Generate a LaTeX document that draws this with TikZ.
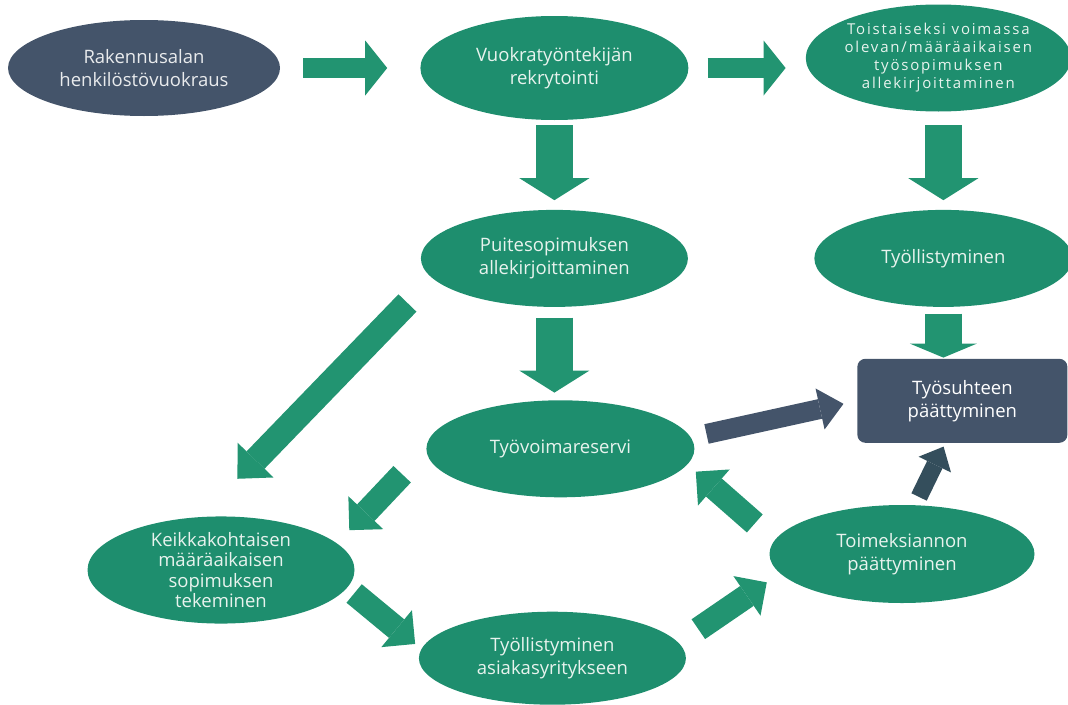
\documentclass[tikz,border=0pt]{standalone}
\usepackage{fontspec}
\setmainfont{Open Sans}
\newfontfamily\spacedfont[LetterSpace=12]{Open Sans}
\usepackage{xcolor}
\usepackage{tikz}
\usetikzlibrary{arrows.meta,shapes.geometric,positioning}

\definecolor{phasegreen}{RGB}{30,142,110}
\definecolor{arrowgreen}{RGB}{34,148,113}
\definecolor{slate}{RGB}{68,84,106}
\definecolor{darkteal}{RGB}{52,78,92}
\definecolor{lighttext}{RGB}{232,243,238}

\begin{document}
\begin{tikzpicture}[x=1pt,y=-1pt]

\tikzstyle{phase} = [ellipse, fill=phasegreen, text=lighttext, inner sep=0pt, align=center, font=\fontsize{18.5}{23}\selectfont]
\tikzstyle{endbox} = [rectangle, rounded corners=8pt, fill=slate, text=white, inner sep=0pt, align=center, font=\fontsize{18.5}{23}\selectfont]
\tikzstyle{bigarrow} = [draw=arrowgreen, line width=37pt, -{Triangle[width=70pt,length=22pt,line width=0pt]}]
\tikzstyle{flatarrow} = [draw=arrowgreen, line width=20pt, -{Triangle[width=55pt,length=22pt,line width=0pt]}]
\tikzstyle{slantarrow} = [draw=arrowgreen, line width=24pt, -{Triangle[width=48pt,length=24pt,line width=0pt]}]

\useasboundingbox (0,0) rectangle (1068,704);

\node [phase, fill=slate, text=white!88!slate, minimum width=272pt, minimum height=96pt] (rental) at (144,68) {Rakennusalan\\henkilöstövuokraus};
\node [phase, minimum width=268pt, minimum height=104pt, right = 140pt of rental] (recruit) {Vuokratyöntekijän\\rekrytointi};
\node [phase, minimum width=264pt, minimum height=107pt, right = 117pt of recruit, yshift=10pt, font=\spacedfont\fontsize{15}{18}\selectfont] (contract) {Toistaiseksi voimassa\\olevan/määräaikaisen\\työsopimuksen\\allekirjoittaminen};
\node [phase, minimum width=267pt, minimum height=97pt, below = 89.5pt of recruit] (frame) {Puitesopimuksen\\allekirjoittaminen};
\node [phase, minimum width=258pt, minimum height=97pt, below = 98pt of contract, xshift=5pt] (employed) {Työllistyminen};
\node [endbox, minimum width=210pt, minimum height=84pt, below = 51.5pt of employed, xshift=19pt] (ending) {Työsuhteen\\päättyminen};
\node [phase, minimum width=268pt, minimum height=97pt, below = 93pt of frame, xshift=6pt] (reserve) {Työvoimareservi};
\node [phase, minimum width=267pt, minimum height=90pt, font=\fontsize{18.5}{20.5}\selectfont] (gig) at (221,570) {Keikkakohtaisen\\määräaikaisen\\sopimuksen\\tekeminen};
\node [phase, minimum width=267pt, minimum height=93pt, below = 114pt of reserve, xshift=-8pt] (placed) {Työllistyminen\\asiakasyritykseen};
\node [phase, minimum width=265pt, minimum height=98pt] (assignend) at (902,554) {Toimeksiannon\\päättyminen};

\draw [flatarrow, shorten <=23pt, shorten >=33pt] (rental) -- (recruit);
\draw [flatarrow, shorten <=19pt, shorten >=20pt] (recruit.east) -- (recruit.east -| contract.west);
\draw [bigarrow, shorten <=5pt, shorten >=9.5pt] (recruit) -- (frame);
\draw [bigarrow, shorten <=13.5pt, shorten >=9.5pt] (employed.north |- contract.south) -- (employed);
\draw [bigarrow, -{Triangle[width=67pt,length=14pt,line width=0pt]}, shorten <=6.5pt, shorten >=1pt] (employed) -- (employed |- ending.north);
\draw [bigarrow, shorten <=10.5pt, shorten >=7.5pt] (frame) -- (frame |- reserve.north);
\draw [draw=slate, line width=20pt, -{Triangle[width=42pt,length=24pt,line width=0pt]}, shorten <=16pt, shorten >=14pt] (reserve.5) -- (ending.west);
\draw [draw=darkteal, line width=17pt, -{Triangle[width=36pt,length=20pt,line width=0pt]}, shorten <=9pt, shorten >=4pt] (assignend.75) -- (ending.-112);
\draw [slantarrow, line width=25pt, -{Triangle[width=50pt,length=26pt,line width=0pt]}, shorten <=35pt, shorten >=53pt] (frame.189) -- (gig.111);
\draw [slantarrow, shorten <=35pt, shorten >=18pt] (reserve.west) -- (gig.13);
\draw [slantarrow, shorten <=9pt, shorten >=8pt] (gig.-8) -- (placed.176);
\draw [slantarrow, shorten <=24pt, shorten >=16pt] (placed.7) -- (assignend.189);
\draw [slantarrow, shorten <=26pt, shorten >=11pt] (assignend.174) -- (reserve.-7);
\end{tikzpicture}
\end{document}
